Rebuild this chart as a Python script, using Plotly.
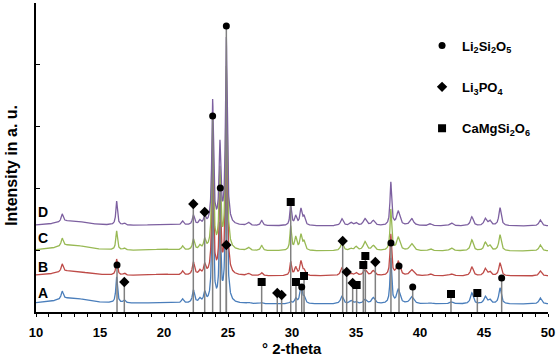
import numpy as np
import plotly.graph_objects as go

# ---------------- data ----------------
series_names = ["A", "B", "C", "D"]
# vertical offset of each stacked pattern (a.u.)
series_offsets = [8, 36, 61, 86]

# reflection positions (deg 2-theta) and peak widths (FWHM, deg) observed in the patterns
peak_pos = [12.8, 12.05, 16.3, 16.9, 19.9, 21.45, 22.3, 22.8, 23.18, 23.8, 24.37, 24.87,
            26.6, 27.63, 29.9, 30.29, 30.7, 30.94, 33.9, 34.6, 35.0, 35.7, 36.35,
            37.72, 38.3, 39.35, 40.8, 42.45, 44.05, 45.1, 45.45, 46.25, 49.4]
peak_fwhm = [3.0, 0.2, 0.15, 0.2, 2.0, 0.2, 0.2, 0.2, 0.2, 0.16, 0.16, 0.16,
             0.25, 0.2, 0.15, 0.2, 0.2, 0.2, 0.25, 0.25, 0.25, 0.3, 0.3,
             0.15, 0.3, 0.35, 0.3, 0.3, 0.25, 0.25, 0.25, 0.22, 0.25]
heights_A = [6, 8, 26, 3, 1.5, 4, 13, 4, 10, 115, 75, 175,
             1, 1, 2, 5, 18, 6, 8, 3, 2, 4, 6,
             45, 14, 7, 1, 2, 11, 7, 4, 16, 6]
heights_B = [5, 8, 16, 2, 1.5, 4, 13, 4, 10, 118, 76, 178,
             2, 3, 14, 8, 14, 5, 8, 2, 3, 6, 5,
             41, 14, 6, 2, 2, 9, 7, 4, 13, 5]
heights_C = [6, 8, 19, 2, 1.5, 4, 11, 4, 10, 120, 78, 182,
             3, 5, 24, 13, 15, 8, 8, 2, 4, 9, 5,
             41, 13, 7, 2, 3, 11, 8, 5, 16, 6]
heights_D = [5, 8, 24, 2, 1.5, 4, 10, 4, 8, 124, 79, 186,
             3, 5, 21, 9, 16, 8, 7, 3, 3, 7, 5,
             43, 14, 7, 2, 3, 9, 7, 5, 18, 6]
series_heights = [heights_A, heights_B, heights_C, heights_D]

# reference (stick) patterns
li2si2o5_pos = [16.33, 23.8, 24.4, 24.87, 30.76, 37.73, 38.36, 39.43, 46.38]
li2si2o5_int = [47, 196, 124, 286, 25, 69, 46, 25, 34]
li3po4_pos = [16.9, 22.29, 23.18, 24.87, 28.85, 29.19, 33.96, 34.27, 34.74, 36.51]
li3po4_int = [30, 108, 100, 67, 19, 17, 71, 40, 29, 50]
camgsi2o6_pos = [27.63, 29.9, 30.31, 30.94, 35.05, 35.57, 35.73, 42.42, 44.48]
camgsi2o6_int = [30, 110, 30, 36, 27, 47, 56, 18, 19]

x_tick_vals = [10, 15, 20, 25, 30, 35, 40, 45, 50]
x_title = "° 2-theta"
y_title = "Intensity in a. u."

# ---------------- styles ----------------
series_colors = ["#4A7EBB", "#BE4B48", "#98B954", "#7D60A0"]
stick_color = "#808080"
FONT = "Liberation Sans, Arial, sans-serif"

# ---------------- build figure ----------------
two_theta = np.linspace(10, 50, 4001)


def pattern(heights, offset):
    y = np.full_like(two_theta, float(offset))
    for p, w, h in zip(peak_pos, peak_fwhm, heights):
        g = w / 2.0
        y += h * g * g / ((two_theta - p) ** 2 + g * g)
    return y


fig = go.Figure()
for name, hts, off, col in zip(series_names, series_heights, series_offsets, series_colors):
    fig.add_trace(go.Scatter(x=two_theta, y=pattern(hts, off), mode="lines",
                             line=dict(color=col, width=1.3), showlegend=False,
                             hoverinfo="skip", name=name))


def sticks(pos, inten):
    xs, ys = [], []
    for p, i in zip(pos, inten):
        xs += [p, p, None]
        ys += [0, i, None]
    return xs, ys


phases = [
    ("Li<sub>2</sub>Si<sub>2</sub>O<sub>5</sub>", li2si2o5_pos, li2si2o5_int, "circle", 7),
    ("Li<sub>3</sub>PO<sub>4</sub>", li3po4_pos, li3po4_int, "diamond", 8),
    ("CaMgSi<sub>2</sub>O<sub>6</sub>", camgsi2o6_pos, camgsi2o6_int, "square", 8),
]
for k, (nm, pos, inten, sym, sz) in enumerate(phases):
    xs, ys = sticks(pos, inten)
    fig.add_trace(go.Scatter(x=xs, y=ys, mode="lines", line=dict(color=stick_color, width=1.5),
                             showlegend=False, hoverinfo="skip"))
for k, (nm, pos, inten, sym, sz) in enumerate(phases):
    fig.add_trace(go.Scatter(x=pos, y=inten, mode="markers", name="<b>%s</b>" % nm,
                             marker=dict(symbol=sym, size=sz, color="black"),
                             legendgroup="g%d" % k))

# series labels
label_y = [19, 45, 74, 100]
for name, ly in zip(series_names, label_y):
    fig.add_annotation(x=10.55, y=ly, text="<b>%s</b>" % name, showarrow=False,
                       xanchor="center", yanchor="middle",
                       font=dict(family=FONT, size=14, color="black"))

fig.add_annotation(xref="paper", yref="paper", x=-0.047, y=0.476, text="<b>%s</b>" % y_title,
                   textangle=-90, showarrow=False, xanchor="center", yanchor="middle",
                   font=dict(family=FONT, size=16, color="black"))
fig.add_annotation(xref="paper", yref="paper", x=0.5, y=-0.118, text="<b>%s</b>" % x_title,
                   showarrow=False, xanchor="center", yanchor="middle",
                   font=dict(family=FONT, size=15, color="black"))

fig.update_layout(
    width=560, height=362,
    margin=dict(l=36, r=12, t=3, b=50),
    plot_bgcolor="white", paper_bgcolor="white",
    font=dict(family=FONT, size=12, color="black"),
    legend=dict(x=0.754, y=0.911, xanchor="left", yanchor="top", tracegroupgap=21.5,
                font=dict(family=FONT, size=13, color="black"),
                bgcolor="rgba(0,0,0,0)", itemwidth=30),
)
fig.update_xaxes(range=[10, 50], tickvals=x_tick_vals, ticktext=["<b>%d</b>" % v for v in x_tick_vals],
                 ticks="outside", ticklen=3, tickwidth=1, tickcolor="black",
                 minor=dict(dtick=1, ticks="outside", ticklen=3, tickcolor="black"),
                 showline=True, linecolor="black", linewidth=1.5, showgrid=False, zeroline=False,
                 tickfont=dict(family=FONT, size=13, color="black"),
                 ticklabelstandoff=5, automargin=False)
fig.update_yaxes(range=[0, 309], tickvals=[0, 61.8, 123.6, 185.4, 247.2, 309], ticks="inside",
                 ticklen=4, tickcolor="black", showticklabels=False, automargin=False,
                 showline=True, linecolor="black", linewidth=1.5, showgrid=False, zeroline=False)

fig.write_html("out.html", config={"displayModeBar": False},
               post_script="document.body.style.margin='0px';")
